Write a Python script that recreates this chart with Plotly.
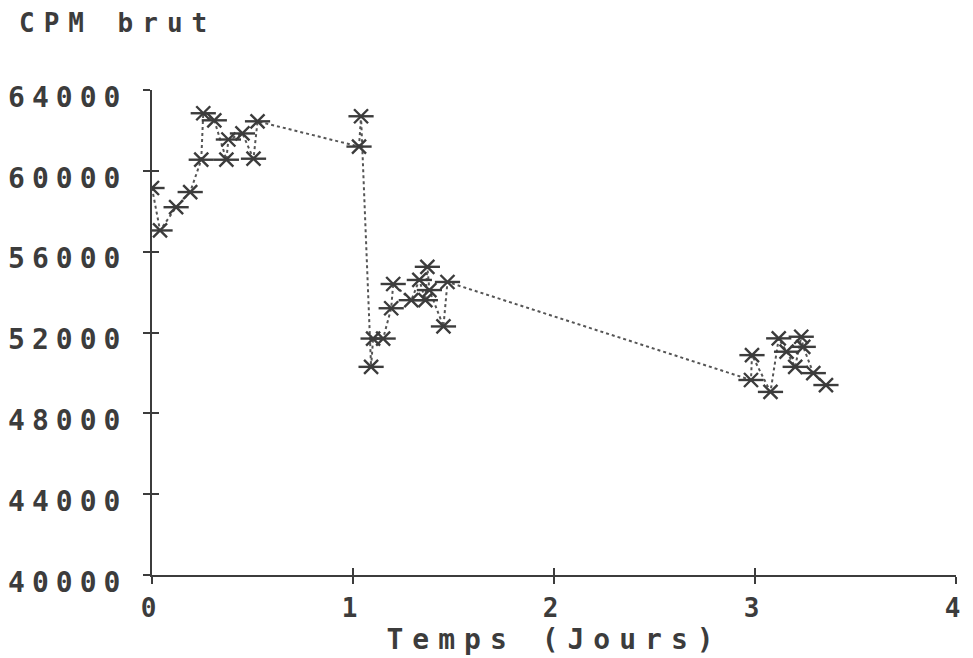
import plotly.graph_objects as go

# Time after start (days) and raw counts per minute
t_days = [0.00, 0.04, 0.12, 0.19, 0.245, 0.255, 0.31, 0.37, 0.38, 0.45, 0.505, 0.525,
          1.03, 1.04,
          1.09, 1.10, 1.15, 1.19, 1.20, 1.29, 1.33, 1.36, 1.37, 1.38, 1.45, 1.47,
          2.98, 2.985, 3.077, 3.118, 3.157, 3.20, 3.23, 3.24, 3.29, 3.353]
cpm = [59150, 57050, 58200, 58950, 60550, 62850, 62500, 60550, 61550, 61850, 60600, 62450,
       61200, 62700,
       50300, 51700, 51700, 53200, 54400, 53600, 54600, 53600, 55250, 54100, 52300, 54500,
       49650, 50880, 49060, 51710, 51050, 50300, 51790, 51290, 49990, 49400]

x_ticks = [0, 1, 2, 3, 4]
y_ticks = [40000, 44000, 48000, 52000, 56000, 60000, 64000]

ink = "#3c3c3c"
mono = "DejaVu Sans Mono"

fig = go.Figure()
fig.add_trace(go.Scatter(x=t_days, y=cpm, mode="lines",
                         line=dict(color="#555555", width=2, dash="dot"),
                         hoverinfo="skip"))
# six-armed star: a thin X plus a horizontal bar
fig.add_trace(go.Scatter(x=t_days, y=cpm, mode="markers",
                         marker=dict(symbol="x-thin-open", size=14, color=ink,
                                     line=dict(color=ink, width=2.4))))
fig.add_trace(go.Scatter(x=t_days, y=cpm, mode="markers",
                         marker=dict(symbol="line-ew-open", size=18, color=ink,
                                     line=dict(color=ink, width=2.4))))

axis_common = dict(showgrid=False, zeroline=False, showline=True,
                   linecolor=ink, linewidth=2, tickcolor=ink, tickwidth=2)

fig.update_layout(
    width=973, height=658,
    margin=dict(l=152, r=9, t=90, b=83),
    paper_bgcolor="white", plot_bgcolor="white",
    showlegend=False,
    font=dict(family=mono, color=ink, size=28, weight="bold"),
    xaxis=dict(range=[0, 4], tickvals=x_ticks, ticks="outside", ticklen=7,
               ticklabelstandoff=2, tickfont=dict(size=26), **axis_common),
    yaxis=dict(range=[40000, 64000], tickvals=y_ticks, ticks="outside", ticklen=7,
               tickformat="d", ticklabelstandoff=10, ticklabelshift=7, **axis_common),
    # inner halves of the crossing tick marks
    xaxis2=dict(overlaying="x", matches="x", range=[0, 4], tickvals=x_ticks,
                ticks="inside", ticklen=7, showticklabels=False,
                showgrid=False, zeroline=False, showline=False,
                tickcolor=ink, tickwidth=2),
    yaxis2=dict(overlaying="y", matches="y", range=[40000, 64000], tickvals=y_ticks,
                ticks="inside", ticklen=7, showticklabels=False,
                showgrid=False, zeroline=False, showline=False,
                tickcolor=ink, tickwidth=2),
    annotations=[
        dict(text="CPM brut", xref="paper", yref="paper", x=-0.043, y=1.138,
             xanchor="center", yanchor="middle", showarrow=False,
             font=dict(family=mono, size=26, color=ink, weight="bold")),
        dict(text="Temps (Jours)", xref="paper", yref="paper", x=0.5, y=-0.134,
             xanchor="center", yanchor="middle", showarrow=False,
             font=dict(family=mono, size=28, color=ink, weight="bold")),
    ],
)
# dummy trace so the overlay axes get drawn
fig.add_trace(go.Scatter(x=[None], y=[None], xaxis="x2", yaxis="y2",
                         mode="markers", hoverinfo="skip"))

spacing_css = ("var s=document.createElement('style');"
               "s.textContent='.xtick text,.ytick text{letter-spacing:7px}"
               ".annotation-text{letter-spacing:9px}';"
               "document.head.appendChild(s);")
fig.write_html("out.html", post_script=spacing_css)
